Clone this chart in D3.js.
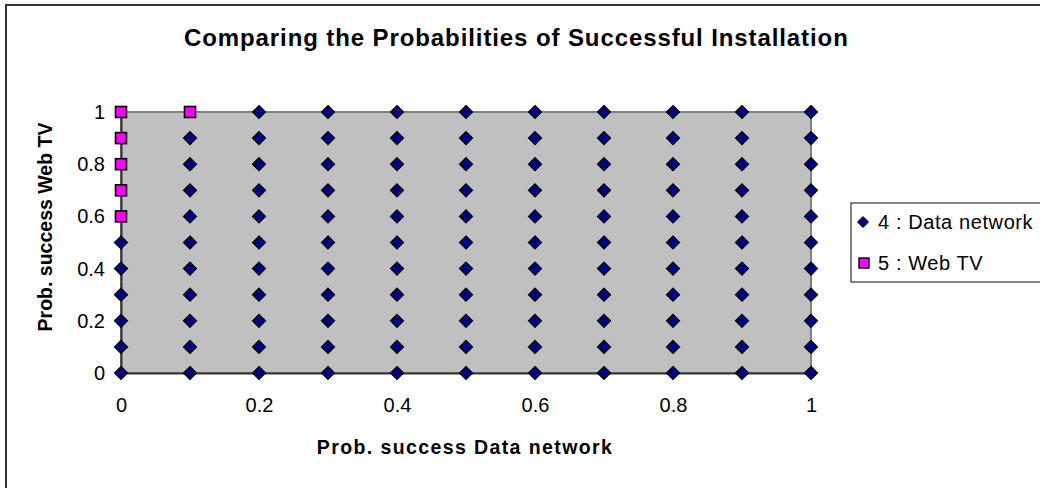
<!DOCTYPE html>
<html><head><meta charset="utf-8">
<script src="https://cdn.jsdelivr.net/npm/d3@7"></script>
<style>html,body{margin:0;padding:0;background:#fff;overflow:hidden}svg{display:block;font-family:"Liberation Sans",Arial,sans-serif}</style>
</head><body><svg id="c" width="1040" height="488"></svg>
<script>
const title = "Comparing the Probabilities of Successful Installation";
const xTitle = "Prob. success Data network";
const yTitle = "Prob. success Web TV";
const xTicks = [0, 0.2, 0.4, 0.6, 0.8, 1];
const yTicks = [0, 0.2, 0.4, 0.6, 0.8, 1];
const columnX = [0, 0.1, 0.2, 0.3, 0.4, 0.5, 0.6, 0.7, 0.8, 0.9, 1];
const dataNetworkYByColumn = [
  [0, 0.1, 0.2, 0.3, 0.4, 0.5],
  [0, 0.1, 0.2, 0.3, 0.4, 0.5, 0.6, 0.7, 0.8, 0.9],
  [0, 0.1, 0.2, 0.3, 0.4, 0.5, 0.6, 0.7, 0.8, 0.9, 1],
  [0, 0.1, 0.2, 0.3, 0.4, 0.5, 0.6, 0.7, 0.8, 0.9, 1],
  [0, 0.1, 0.2, 0.3, 0.4, 0.5, 0.6, 0.7, 0.8, 0.9, 1],
  [0, 0.1, 0.2, 0.3, 0.4, 0.5, 0.6, 0.7, 0.8, 0.9, 1],
  [0, 0.1, 0.2, 0.3, 0.4, 0.5, 0.6, 0.7, 0.8, 0.9, 1],
  [0, 0.1, 0.2, 0.3, 0.4, 0.5, 0.6, 0.7, 0.8, 0.9, 1],
  [0, 0.1, 0.2, 0.3, 0.4, 0.5, 0.6, 0.7, 0.8, 0.9, 1],
  [0, 0.1, 0.2, 0.3, 0.4, 0.5, 0.6, 0.7, 0.8, 0.9, 1],
  [0, 0.1, 0.2, 0.3, 0.4, 0.5, 0.6, 0.7, 0.8, 0.9, 1]
];
const webTvX = [0, 0, 0, 0, 0, 0.1];
const webTvY = [0.6, 0.7, 0.8, 0.9, 1, 1];
const seriesNames = ["4 : Data network", "5 : Web TV"];

const svg = d3.select("#c");
const plot = {l: 121, r: 811, t: 112, b: 373};
const x = d3.scaleLinear().domain([0, 1]).range([plot.l, plot.r]);
const y = d3.scaleLinear().domain([0, 1]).range([plot.b, plot.t]);

// chart frame
svg.append("rect").attr("x", 6).attr("y", 5).attr("width", 1100).attr("height", 600)
  .attr("fill", "#fff").attr("stroke", "#333").attr("stroke-width", 2);

// title
svg.append("text").attr("x", 184).attr("y", 46).attr("font-size", 24).attr("font-weight", "bold")
  .attr("letter-spacing", 0.9).text(title);

// plot area
svg.append("rect").attr("x", plot.l).attr("y", plot.t).attr("width", plot.r - plot.l).attr("height", plot.b - plot.t)
  .attr("fill", "#c0c0c0").attr("stroke", "#808080").attr("stroke-width", 2);

// axes
const xAxis = d3.axisBottom(x).tickValues(xTicks).tickSize(0).tickPadding(25).tickFormat(d3.format("~g"));
const yAxis = d3.axisLeft(y).tickValues(yTicks).tickSize(0).tickPadding(16).tickFormat(d3.format("~g"));
const gx = svg.append("g").attr("transform", `translate(0,${plot.b})`).call(xAxis);
const gy = svg.append("g").attr("transform", `translate(${plot.l},0)`).call(yAxis);
[gx, gy].forEach(g => {
  g.select(".domain").attr("stroke", "#333").attr("stroke-width", 2);
  g.selectAll("text").attr("font-size", 20).attr("font-family", "Liberation Sans, Arial, sans-serif").attr("fill", "#000");
});
gx.selectAll("text").attr("dy", "0.71em");

// axis titles
svg.append("text").attr("x", 465).attr("y", 454).attr("text-anchor", "middle").attr("font-size", 19.5)
  .attr("font-weight", "bold").attr("letter-spacing", 1.4).text(xTitle);
svg.append("text").attr("transform", "translate(52,227) rotate(-90)").attr("text-anchor", "middle")
  .attr("font-size", 19.5).attr("font-weight", "bold").text(yTitle);

// points
const dataNetwork = [];
columnX.forEach((cx, i) => dataNetworkYByColumn[i].forEach(vy => dataNetwork.push([cx, vy])));
const webTv = webTvX.map((vx, i) => [vx, webTvY[i]]);

const diamond = "M0,-6.5L6.5,0L0,6.5L-6.5,0Z";
svg.append("g").selectAll("path").data(dataNetwork).join("path")
  .attr("d", diamond).attr("transform", d => `translate(${x(d[0])},${y(d[1])})`)
  .attr("fill", "#000080").attr("stroke", "#000").attr("stroke-width", 1.2);
svg.append("g").selectAll("rect").data(webTv).join("rect")
  .attr("x", d => x(d[0]) - 5.5).attr("y", d => y(d[1]) - 5.5).attr("width", 11).attr("height", 11)
  .attr("fill", "#ff00ff").attr("stroke", "#000").attr("stroke-width", 1.6);

// legend
const lg = svg.append("g");
lg.append("rect").attr("x", 851).attr("y", 203).attr("width", 300).attr("height", 79)
  .attr("fill", "#fff").attr("stroke", "#333").attr("stroke-width", 1.2);
lg.append("path").attr("d", "M0,-5.5L5.5,0L0,5.5L-5.5,0Z").attr("transform", "translate(863,222)")
  .attr("fill", "#000080").attr("stroke", "#000").attr("stroke-width", 1);
lg.append("rect").attr("x", 859).attr("y", 258).attr("width", 10).attr("height", 10)
  .attr("fill", "#ff00ff").attr("stroke", "#000").attr("stroke-width", 1.4);
lg.selectAll("text").data(seriesNames).join("text")
  .attr("x", 878).attr("y", (d, i) => 222 + i * 41).attr("dy", "0.35em")
  .attr("font-size", 20).attr("letter-spacing", 0.6).text(d => d);
</script></body></html>
